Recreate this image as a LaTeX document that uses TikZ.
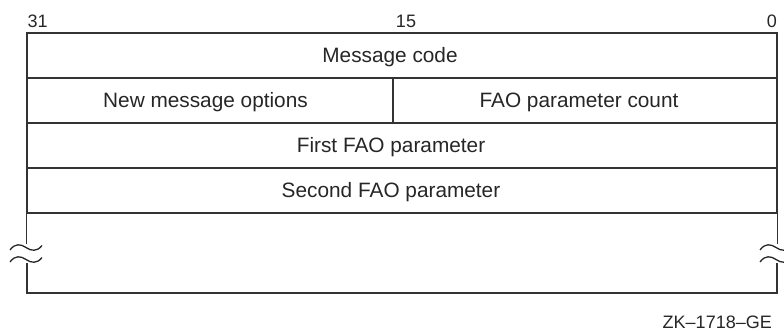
\documentclass[tikz,border=0pt]{standalone}
\usepackage{fontspec}
\setmainfont{Liberation Sans}
\begin{document}
\begin{tikzpicture}[x=1pt,y=-1pt,
  field/.style={draw=black!80, line width=1.3pt, inner sep=0pt, minimum height=45pt, anchor=center},
  ftext/.style={inner sep=0pt, text=black!85, font=\fontsize{20.8}{24}\selectfont, anchor=base},
  bitlbl/.style={inner sep=0pt, text=black!85, font=\fontsize{18}{21}\selectfont, anchor=base},
  edge/.style={draw=black!80, line width=1.3pt},
  wave/.style={draw=black!85, line width=1.3pt}]
\useasboundingbox (0,0) rectangle (784,331);
% bit numbers
\node[bitlbl, anchor=base west] (b31) at (27.5,28) {31};
\node[bitlbl] (b15) at (406,28) {15};
\node[bitlbl, anchor=base east] (b0) at (777,28) {0};
% fields
\node[field, minimum width=750pt] (code) at (402,55.5) {};
\node[field, minimum width=366pt] (opts) at (210,100.5) {};
\node[field, minimum width=384pt] (count) at (585,100.5) {};
\node[field, minimum width=750pt] (first) at (402,145.5) {};
\node[field, minimum width=750pt] (second) at (402,190.5) {};
% field texts
\node[ftext] (codet) at ([xshift=-12pt,yshift=-7.5pt]code.center) {Message code};
\node[ftext] (optst) at ([xshift=-4.5pt,yshift=-7.5pt]opts.center) {New message options};
\node[ftext] (countt) at ([xshift=-6pt,yshift=-7.5pt]count.center) {FAO parameter count};
\node[ftext] (firstt) at ([xshift=-11pt,yshift=-7.5pt]first.center) {First FAO parameter};
\node[ftext] (secondt) at ([xshift=-11pt,yshift=-7.5pt]second.center) {Second FAO parameter};
% open-ended area
\coordinate (lt) at (second.south west);
\coordinate (rt) at (second.south east);
\coordinate (lb) at (27,293);
\coordinate (rb) at (777,293);
\draw[edge] (lt) -- ++(0,30);
\draw[edge] (lb) ++(0,-30) -- (lb) -- (rb) -- ++(0,-30);
\draw[edge] (rt) -- ++(0,30);
% break marks
\foreach \dy in {0,12}{
  \draw[wave] (10,250+\dy) .. controls (15,243+\dy) and (21,244+\dy) .. (26,247.5+\dy)
      .. controls (31,251+\dy) and (37,252+\dy) .. (42,245.5+\dy);
  \draw[wave] (760,250+\dy) .. controls (765,243+\dy) and (771,244+\dy) .. (776,247.5+\dy)
      .. controls (781,251+\dy) and (787,252+\dy) .. (792,245.5+\dy);
}
% figure id
\node[bitlbl, anchor=base east] (zk) at (772,328) {ZK–1718–GE};
\end{tikzpicture}
\end{document}
